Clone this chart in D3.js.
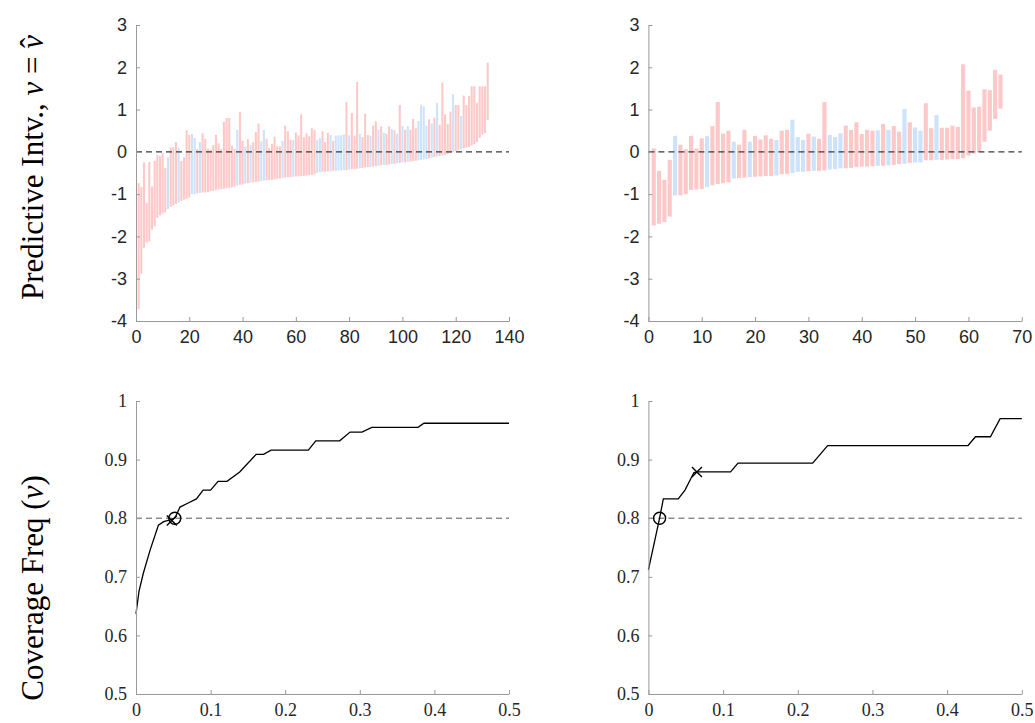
<!DOCTYPE html>
<html>
<head>
<meta charset="utf-8">
<script src="https://cdn.jsdelivr.net/npm/d3@7"></script>
<style>
  html, body { margin: 0; padding: 0; background: #fff; }
  svg { display: block; }
</style>
</head>
<body>
<svg id="fig" width="1035" height="723"></svg>
<script>
// ---- Predictive intervals, 132 test points (left) ----
const leftLower = [
  -3.72, -2.88, -2.27, -2.15, -2.12, -1.84, -1.76, -1.56, -1.50, -1.46,
  -1.43, -1.35, -1.30, -1.27, -1.23, -1.20, -1.16, -1.13, -1.11, -1.08,
  -1.00, -1.00, -0.98, -0.97, -0.96, -0.96, -0.95, -0.93, -0.92, -0.90,
  -0.89, -0.88, -0.87, -0.86, -0.85, -0.84, -0.82, -0.80, -0.78, -0.77,
  -0.75, -0.74, -0.73, -0.72, -0.71, -0.70, -0.69, -0.68, -0.67, -0.67,
  -0.66, -0.65, -0.64, -0.63, -0.62, -0.61, -0.60, -0.60, -0.59, -0.58,
  -0.58, -0.57, -0.57, -0.56, -0.55, -0.54, -0.53, -0.50, -0.48, -0.47,
  -0.47, -0.46, -0.46, -0.45, -0.45, -0.44, -0.44, -0.43, -0.43, -0.42,
  -0.41, -0.41, -0.40, -0.39, -0.38, -0.37, -0.36, -0.36, -0.35, -0.34,
  -0.33, -0.32, -0.31, -0.31, -0.30, -0.29, -0.28, -0.27, -0.26, -0.25,
  -0.25, -0.24, -0.23, -0.22, -0.21, -0.20, -0.19, -0.18, -0.17, -0.15,
  -0.14, -0.12, -0.11, -0.10, -0.08, -0.07, -0.05, -0.03, -0.01, 0.02,
  0.04, 0.06, 0.08, 0.10, 0.12, 0.15, 0.18, 0.23, 0.33, 0.41,
  0.44, 0.75
];
const leftUpper = [
  -0.74, -0.83, -0.25, -1.20, -0.24, -0.82, -0.21, -0.07, -0.10, -0.03,
  -0.38, -0.13, 0.10, 0.11, 0.23, 0.10, -0.22, -0.13, 0.51, 0.40,
  0.42, 0.33, 0.07, 0.23, 0.44, 0.31, 0.08, 0.06, 0.16, 0.40,
  0.20, 0.07, 0.71, 0.80, 0.80, 0.15, 0.07, 0.52, 0.94, 0.26,
  0.13, 0.30, 0.16, 0.23, 0.47, 0.67, 0.25, 0.52, 0.31, 0.09,
  0.19, 0.36, 0.13, 0.13, 0.26, 0.62, 0.49, 0.29, 0.28, 0.46,
  0.39, 0.89, 0.35, 0.44, 0.37, 0.56, 0.52, 0.28, 0.32, 0.49,
  0.23, 0.45, 0.40, 0.26, 0.38, 0.39, 0.39, 0.41, 1.18, 0.39,
  0.92, 0.38, 1.65, 0.43, 0.35, 0.90, 0.40, 0.38, 0.62, 0.72,
  0.52, 0.60, 0.45, 0.43, 0.60, 0.54, 0.51, 0.43, 1.11, 0.61,
  0.52, 0.61, 0.52, 0.78, 0.56, 0.73, 1.11, 1.08, 0.62, 0.77,
  0.67, 0.81, 1.16, 0.64, 1.64, 0.89, 0.66, 0.95, 1.36, 1.11,
  1.11, 0.85, 1.33, 1.11, 1.32, 1.55, 1.55, 1.16, 1.55, 1.55,
  1.55, 2.11
];
// 1 = drawn in blue, 0 = drawn in red
const leftBlue = [
  0,0,0,0,0,0,0,0,0,0, 0,1,0,0,0,1,0,0,0,0,
  1,1,0,1,0,0,0,0,0,0, 0,0,0,0,0,0,0,1,0,0,
  1,0,1,0,0,0,1,1,0,0, 0,0,0,0,1,0,0,0,1,0,
  0,0,0,0,0,0,0,1,1,0, 0,0,1,0,1,1,1,1,0,1,
  0,0,0,1,0,0,0,1,0,0, 1,0,1,0,0,1,0,1,0,1,
  0,1,0,0,0,1,1,1,1,0, 1,0,1,0,0,0,0,0,1,0,
  0,1,0,0,0,0,0,0,0,0, 0,0
];

// ---- Predictive intervals, 66 test points (right) ----
const rightLower = [
  -1.74, -1.70, -1.66, -1.53, -1.03, -1.03, -1.00, -0.90, -0.89, -0.88,
  -0.83, -0.79, -0.76, -0.74, -0.72, -0.63, -0.62, -0.61, -0.60, -0.59,
  -0.58, -0.57, -0.57, -0.56, -0.53, -0.52, -0.50, -0.47, -0.47, -0.46,
  -0.45, -0.45, -0.44, -0.42, -0.41, -0.39, -0.39, -0.38, -0.36, -0.35,
  -0.35, -0.34, -0.33, -0.33, -0.32, -0.31, -0.29, -0.28, -0.26, -0.25,
  -0.25, -0.20, -0.20, -0.19, -0.19, -0.18, -0.17, -0.17, -0.15, -0.09,
  -0.04, 0.00, 0.24, 0.50, 0.78, 1.02
];
const rightUpper = [
  0.08, -0.45, -0.66, -0.19, 0.38, 0.17, 0.06, 0.38, 0.08, 0.32,
  0.37, 0.61, 1.18, 0.43, 0.50, 0.24, 0.17, 0.52, 0.24, 0.38,
  0.29, 0.39, 0.31, 0.28, 0.50, 0.52, 0.76, 0.35, 0.28, 0.43,
  0.36, 0.31, 1.18, 0.40, 0.35, 0.44, 0.62, 0.52, 0.70, 0.42,
  0.52, 0.50, 0.51, 0.66, 0.52, 0.61, 0.48, 1.01, 0.70, 0.58,
  0.50, 1.15, 0.56, 0.87, 0.57, 0.57, 0.62, 0.59, 2.07, 1.45,
  1.05, 1.07, 1.48, 1.46, 1.94, 1.83
];
const rightBlue = [
  0,0,0,0,1,0,0,0,0,0, 1,0,0,0,0,1,0,0,1,0,
  0,0,0,1,0,0,1,1,1,0, 1,0,0,1,1,1,0,0,0,0,
  0,0,1,0,1,0,0,1,0,1, 1,0,0,1,0,0,0,0,0,0,
  0,0,0,0,0,0
];

// ---- Coverage frequency curves ----
const leftCovX = [0, 0.004, 0.0098, 0.019, 0.030, 0.037, 0.046, 0.052, 0.059, 0.070,
  0.081, 0.090, 0.100, 0.110, 0.122, 0.139, 0.161, 0.171, 0.181, 0.231,
  0.241, 0.273, 0.287, 0.303, 0.316, 0.378, 0.386, 0.5];
const leftCovY = [0.637, 0.675, 0.706, 0.746, 0.788, 0.794, 0.797, 0.800, 0.819, 0.826,
  0.833, 0.848, 0.848, 0.863, 0.863, 0.879, 0.909, 0.909, 0.916, 0.916,
  0.932, 0.932, 0.947, 0.947, 0.955, 0.955, 0.962, 0.962];
const rightCovX = [0, 0.015, 0.020, 0.040, 0.049, 0.061, 0.065, 0.110, 0.120, 0.220,
  0.240, 0.428, 0.438, 0.458, 0.471, 0.5];
const rightCovY = [0.712, 0.800, 0.833, 0.833, 0.848, 0.878, 0.879, 0.879, 0.894, 0.894,
  0.924, 0.924, 0.939, 0.939, 0.970, 0.970];
// circle and cross markers on each curve
const leftCircle = [0.052, 0.800], leftCross = [0.048, 0.796];
const rightCircle = [0.015, 0.800], rightCross = [0.065, 0.879];
const coverageTarget = 0.8;

// ---- Tick values ----
const intvYTicks = [-4, -3, -2, -1, 0, 1, 2, 3];
const leftXTicks = [0, 20, 40, 60, 80, 100, 120, 140];
const rightXTicks = [0, 10, 20, 30, 40, 50, 60, 70];
const covYTicks = [0.5, 0.6, 0.7, 0.8, 0.9, 1];
const covXTicks = [0, 0.1, 0.2, 0.3, 0.4, 0.5];

const svg = d3.select("#fig");
svg.append("rect").attr("width", 1035).attr("height", 723).attr("fill", "#fff");

const SANS = "'Liberation Sans', Arial, sans-serif";
const SERIF = "'Liberation Serif', 'DejaVu Serif', serif";
const AXIS_COLOR = "#9a9a9a";
const RED = "#ffc8c8", BLUE = "#cce3fb";

const colL = [136, 509], colR = [648.4, 1021.8];
const rowTop = [321, 25], rowBot = [694, 401];

function styleAxis(g, font) {
  g.select(".domain").attr("stroke", AXIS_COLOR).attr("stroke-width", 1);
  g.selectAll(".tick line").attr("stroke", AXIS_COLOR);
  g.selectAll(".tick text").attr("fill", "#262626")
    .style("font-family", font).style("font-size", "18px");
}

function axes(x, y, xTicks, yTicks, font, fmtX, fmtY) {
  const gx = svg.append("g").attr("transform", `translate(0,${y.range()[0]})`)
    .call(d3.axisBottom(x).tickValues(xTicks).tickSizeInner(-4).tickSizeOuter(0)
      .tickPadding(9).tickFormat(fmtX));
  styleAxis(gx, font);
  const gy = svg.append("g").attr("transform", `translate(${x.range()[0]},0)`)
    .call(d3.axisLeft(y).tickValues(yTicks).tickSizeInner(-4).tickSizeOuter(0)
      .tickPadding(9).tickFormat(fmtY));
  styleAxis(gy, font);
}

function intervalPanel(cols, lower, upper, blue, xMax, xTicks) {
  const x = d3.scaleLinear().domain([0, xMax]).range(cols);
  const y = d3.scaleLinear().domain([-4, 3]).range(rowTop);
  const w = (x(1) - x(0)) * 0.78;
  const data = lower.map((lo, i) => ({ i: i + 1, lo, hi: upper[i], b: blue[i] }));
  svg.append("g").selectAll("rect").data(data).join("rect")
    .attr("x", d => x(d.i) - w / 2)
    .attr("width", w)
    .attr("y", d => y(d.hi))
    .attr("height", d => y(d.lo) - y(d.hi))
    .attr("fill", d => d.b ? BLUE : RED);
  svg.append("line")
    .attr("x1", x(0)).attr("x2", x(xMax))
    .attr("y1", y(0)).attr("y2", y(0))
    .attr("stroke", "#3a3a3a").attr("stroke-width", 1.1)
    .attr("stroke-dasharray", "6,4");
  axes(x, y, xTicks, intvYTicks, SANS, d => String(d), d => String(d));
}

function coveragePanel(cols, xs, ys, circ, cross) {
  const x = d3.scaleLinear().domain([0, 0.5]).range(cols);
  const y = d3.scaleLinear().domain([0.5, 1]).range(rowBot);
  svg.append("line")
    .attr("x1", x(0)).attr("x2", x(0.5))
    .attr("y1", y(coverageTarget)).attr("y2", y(coverageTarget))
    .attr("stroke", "#555").attr("stroke-width", 1)
    .attr("stroke-dasharray", "6,4");
  const line = d3.line().x(d => x(d[0])).y(d => y(d[1]));
  svg.append("path").datum(xs.map((v, i) => [v, ys[i]]))
    .attr("d", line).attr("fill", "none")
    .attr("stroke", "#000").attr("stroke-width", 1.3);
  svg.append("circle").attr("cx", x(circ[0])).attr("cy", y(circ[1])).attr("r", 6)
    .attr("fill", "none").attr("stroke", "#000").attr("stroke-width", 1.4);
  const cx = x(cross[0]), cy = y(cross[1]), s = 5;
  svg.append("path")
    .attr("d", `M${cx - s},${cy - s}L${cx + s},${cy + s}M${cx - s},${cy + s}L${cx + s},${cy - s}`)
    .attr("stroke", "#000").attr("stroke-width", 1.4);
  axes(x, y, covXTicks, covYTicks, SERIF, d => String(d), d => String(d));
}

intervalPanel(colL, leftLower, leftUpper, leftBlue, 140, leftXTicks);
intervalPanel(colR, rightLower, rightUpper, rightBlue, 70, rightXTicks);
coveragePanel(colL, leftCovX, leftCovY, leftCircle, leftCross);
coveragePanel(colR, rightCovX, rightCovY, rightCircle, rightCross);

// ---- Row titles ----
const t1 = svg.append("text")
  .attr("transform", "translate(43,166) rotate(-90)")
  .attr("text-anchor", "middle")
  .style("font-family", SERIF).style("font-size", "31px").attr("fill", "#000");
t1.append("tspan").text("Predictive Intv., ");
t1.append("tspan").style("font-style", "italic").text("ν");
t1.append("tspan").text(" = ");
t1.append("tspan").style("font-style", "italic").text("ν");
// circumflex accent set above the last ν
t1.append("tspan").attr("dx", "-0.42em").attr("dy", "-0.02em").text("\u02C6");
t1.append("tspan").attr("dx", "0.1em").attr("dy", "0.02em").text("\u200A");

const t2 = svg.append("text")
  .attr("transform", "translate(43,588) rotate(-90)")
  .attr("text-anchor", "middle")
  .style("font-family", SERIF).style("font-size", "31px").attr("fill", "#000");
t2.append("tspan").text("Coverage Freq (");
t2.append("tspan").style("font-style", "italic").text("ν");
t2.append("tspan").text(")");
</script>
</body>
</html>
